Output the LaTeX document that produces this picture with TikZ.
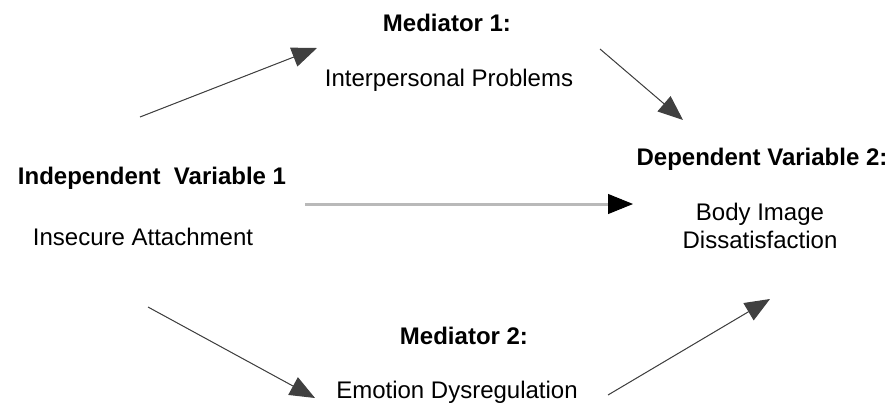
\documentclass[tikz,border=0pt]{standalone}
\usepackage{fontspec}
\setmainfont{Liberation Sans}
\usetikzlibrary{arrows.meta}
\definecolor{midgray}{RGB}{185,185,185}
\begin{document}
\begin{tikzpicture}[x=1pt,y=-1pt,>={Triangle[length=25pt,width=20pt]},
  title/.style={font=\fontsize{24}{28}\selectfont\bfseries,inner sep=0pt},
  txt/.style={font=\fontsize{24}{28}\selectfont,inner sep=0pt,align=center},
  link/.style={->,draw=black!75,fill=black,line width=1pt}]
\useasboundingbox (0,0) rectangle (893,405);

\node[title] (ivt) at (152,178) {Independent\ \ Variable 1};
\node[txt] (ivx) at (143,237) {Insecure Attachment};
\node[title] (m1t) at (447,23) {Mediator 1:};
\node[txt] (m1x) at (449,80) {Interpersonal Problems};
\node[title] (m2t) at (464,336) {Mediator 2:};
\node[txt] (m2x) at (457,392) {Emotion Dysregulation};
\node[title] (dvt) at (762,159) {Dependent Variable 2:};
\node[txt] (dvx) at (760,226) {Body Image\\Dissatisfaction};

\coordinate (a1) at (140,117); \coordinate (b1) at (317,48);
\coordinate (a2) at (600,49);  \coordinate (b2) at (683,120);
\coordinate (a3) at (305,204); \coordinate (b3) at (633,204);
\coordinate (c3) at (608,204);
\coordinate (a4) at (148,307); \coordinate (b4) at (315,398);
\coordinate (a5) at (608,395); \coordinate (b5) at (770,299);

\draw[link] (a1)--(b1);
\draw[link] (a2)--(b2);
\draw[midgray,line width=3pt] (a3)--(c3);
\draw[->,black,line width=1pt] (c3)--(b3);
\draw[link] (a4)--(b4);
\draw[link] (a5)--(b5);
\end{tikzpicture}
\end{document}
